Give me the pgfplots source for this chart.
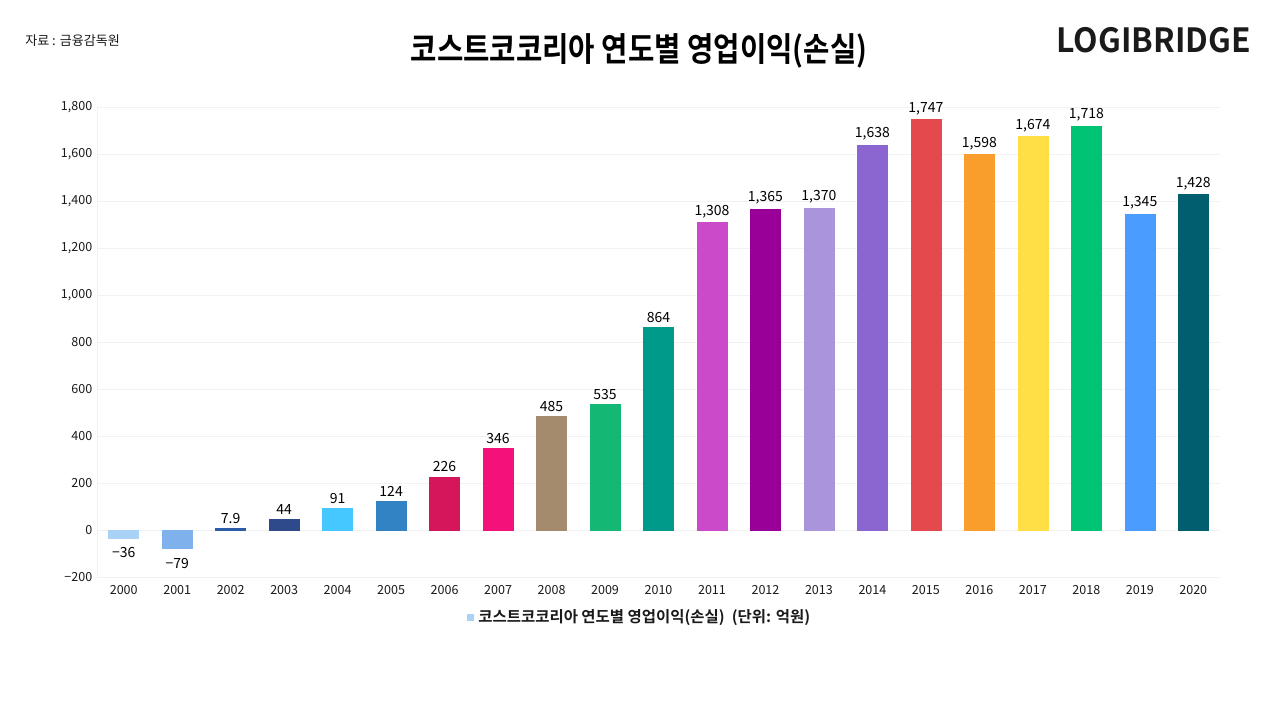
\documentclass[border=0pt]{standalone}
\usepackage{fontspec}
\setmainfont{Noto Sans CJK KR}[BoldFont={Noto Sans CJK KR Bold}]
\newfontfamily\krdig{Noto Sans CJK KR}[NFSSFamily=krnoto]
\DeclareSymbolFont{krdigits}{TU}{krnoto}{m}{n}
\AtBeginDocument{%
  \Umathcode`0=0 \symkrdigits `0
  \Umathcode`1=0 \symkrdigits `1
  \Umathcode`2=0 \symkrdigits `2
  \Umathcode`3=0 \symkrdigits `3
  \Umathcode`4=0 \symkrdigits `4
  \Umathcode`5=0 \symkrdigits `5
  \Umathcode`6=0 \symkrdigits `6
  \Umathcode`7=0 \symkrdigits `7
  \Umathcode`8=0 \symkrdigits `8
  \Umathcode`9=0 \symkrdigits `9
  \Umathcode`,=0 \symkrdigits `,
  \Umathcode`.=0 \symkrdigits `.
  \Umathcode`-=2 \symkrdigits "2212
}
\usepackage{graphicx}
\usepackage{pgfplots}
\pgfplotsset{compat=1.18}
\definecolor{c0}{HTML}{AAD2F7}
\definecolor{c1}{HTML}{7FB1EC}
\definecolor{c2}{HTML}{2C5BA8}
\definecolor{c3}{HTML}{2F4A8A}
\definecolor{c4}{HTML}{45C8FF}
\definecolor{c5}{HTML}{3283C3}
\definecolor{c6}{HTML}{D5165A}
\definecolor{c7}{HTML}{F4117A}
\definecolor{c8}{HTML}{A58B6D}
\definecolor{c9}{HTML}{15B774}
\definecolor{c10}{HTML}{009A8B}
\definecolor{c11}{HTML}{CB4ACA}
\definecolor{c12}{HTML}{980098}
\definecolor{c13}{HTML}{AA95DC}
\definecolor{c14}{HTML}{8C66D0}
\definecolor{c15}{HTML}{E44A4D}
\definecolor{c16}{HTML}{F99D2C}
\definecolor{c17}{HTML}{FFDF45}
\definecolor{c18}{HTML}{00C473}
\definecolor{c19}{HTML}{4A9CFF}
\definecolor{c20}{HTML}{005E6E}
\definecolor{gridc}{HTML}{F2F2F2}
\definecolor{txt}{HTML}{1A1A1A}
\begin{document}
\begin{tikzpicture}
\path[use as bounding box, fill=white] (0pt,0pt) rectangle (960pt,540pt);
\node[anchor=west, inner sep=0pt, font=\fontsize{9.8}{11}\selectfont, text=txt] at (18.75pt,509.25pt) {자료 : 금융감독원};
\node[inner sep=0pt, font=\fontsize{25}{28}\bfseries, text=black] at (479.25pt,501.75pt) {\scalebox{0.86}[1]{코스트코코리아 연도별 영업이익(손실)}};
\node[anchor=east, inner sep=0pt, font=\fontsize{25}{28}\bfseries, text=txt] at (938.25pt,510pt) {\scalebox{0.955}[1]{LOGIBRIDGE}};
\begin{axis}[
  at={(72.75pt,107.25pt)}, anchor=south west, scale only axis,
  width=842.25pt, height=352.5pt,
  ybar, bar width=22.5pt, bar shift=0pt,
  xmin=-0.5, xmax=20.5, ymin=-200, ymax=1800,
  xtick={0,...,20},
  xticklabels={2000,2001,2002,2003,2004,2005,2006,2007,2008,2009,2010,2011,2012,2013,2014,2015,2016,2017,2018,2019,2020},
  ytick={-200,0,200,400,600,800,1000,1200,1400,1600,1800},
  /pgf/number format/1000 sep={,},
  ymajorgrids, grid style={draw=gridc, line width=0.7pt},
  axis lines*=left, axis line style={draw=gridc, line width=0.7pt, -},
  major tick length=0pt,
  tick label style={font=\fontsize{9.4}{11}\selectfont, text=txt},
  xticklabel style={yshift=-3pt},
  clip=false,
  nodes near coords,
  every node near coord/.append style={font=\fontsize{10.5}{12}\selectfont, text=black},
  legend style={at={(0.4835,-0.085)}, anchor=center, draw=none, fill=none,
    font=\fontsize{11.6}{13}\bfseries, text=txt, inner sep=0pt,
    /tikz/every even column/.append style={column sep=0pt}},
  legend cell align=left,
]
\addplot[fill=c0, draw=c0, every node near coord/.append style={yshift=-3pt}, legend image code/.code={\fill[c0] (0pt,-2.25pt) rectangle (4.5pt,2.25pt);}] coordinates {(0,-36)};
\addlegendentry{\hspace{1.5pt}코스트코코리아 연도별 영업이익(손실) \ (단위: 억원)}
\addplot[forget plot, fill=c1, draw=c1, every node near coord/.append style={yshift=-3.5pt}] coordinates {(1,-79)};
\addplot[forget plot, fill=c2, draw=c2] coordinates {(2,7.9)};
\addplot[forget plot, fill=c3, draw=c3] coordinates {(3,44)};
\addplot[forget plot, fill=c4, draw=c4] coordinates {(4,91)};
\addplot[forget plot, fill=c5, draw=c5] coordinates {(5,124)};
\addplot[forget plot, fill=c6, draw=c6] coordinates {(6,226)};
\addplot[forget plot, fill=c7, draw=c7] coordinates {(7,346)};
\addplot[forget plot, fill=c8, draw=c8] coordinates {(8,485)};
\addplot[forget plot, fill=c9, draw=c9] coordinates {(9,535)};
\addplot[forget plot, fill=c10, draw=c10] coordinates {(10,864)};
\addplot[forget plot, fill=c11, draw=c11] coordinates {(11,1308)};
\addplot[forget plot, fill=c12, draw=c12] coordinates {(12,1365)};
\addplot[forget plot, fill=c13, draw=c13] coordinates {(13,1370)};
\addplot[forget plot, fill=c14, draw=c14] coordinates {(14,1638)};
\addplot[forget plot, fill=c15, draw=c15] coordinates {(15,1747)};
\addplot[forget plot, fill=c16, draw=c16] coordinates {(16,1598)};
\addplot[forget plot, fill=c17, draw=c17] coordinates {(17,1674)};
\addplot[forget plot, fill=c18, draw=c18] coordinates {(18,1718)};
\addplot[forget plot, fill=c19, draw=c19] coordinates {(19,1345)};
\addplot[forget plot, fill=c20, draw=c20] coordinates {(20,1428)};
\end{axis}
\end{tikzpicture}
\end{document}
